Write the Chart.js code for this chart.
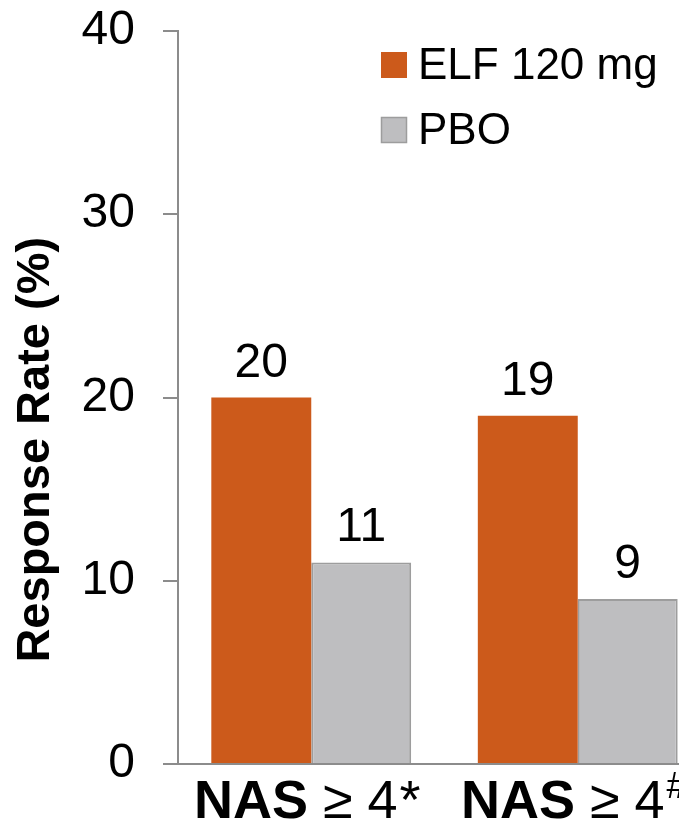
<!DOCTYPE html>
<html>
<head>
<meta charset="utf-8">
<script src="https://cdn.jsdelivr.net/npm/chart.js@4/dist/chart.umd.min.js"></script>
<style>
  html, body { margin: 0; padding: 0; background: #fff; overflow: hidden; }
  #wrap { width: 720px; height: 825px; }
</style>
</head>
<body>
<div id="wrap"><canvas id="responseChart"></canvas></div>
<script>
// chart data
const categories = ['NAS ≥ 4*', 'NAS ≥ 4#'];
const catBold = ['NAS', 'NAS'];
const catRest = [' ≥ 4', ' ≥ 4'];
const catMark = ['*', '#'];
const elfValues = [20, 19];
const pboValues = [11, 9];
const yTicks = [0, 10, 20, 30, 40];

const FONT = '"Liberation Sans", Arial, Helvetica, sans-serif';
const ORANGE = '#cc5a1b';
const GREY = '#bebec0';
const GREY_BORDER = '#9d9d9d';
const AXIS = '#8c8c8c';

// numbers above bars
const valueLabels = {
    id: 'valueLabels',
    afterDatasetsDraw(chart) {
        const ctx = chart.ctx;
        ctx.save();
        ctx.font = '48px ' + FONT;
        ctx.fillStyle = '#000';
        ctx.textAlign = 'center';
        ctx.textBaseline = 'alphabetic';
        chart.data.datasets.forEach((ds, i) => {
            chart.getDatasetMeta(i).data.forEach((bar, j) => {
                ctx.fillText(String(ds.data[j]), bar.x, bar.y - 21);
            });
        });
        ctx.restore();
    }
};

// category labels with bold "NAS" and footnote marks
const categoryLabels = {
    id: 'categoryLabels',
    afterDraw(chart) {
        const ctx = chart.ctx;
        const xScale = chart.scales.x;
        const baseY = 818;
        ctx.save();
        ctx.fillStyle = '#000';
        ctx.textBaseline = 'alphabetic';
        ctx.textAlign = 'left';
        categories.forEach((c, i) => {
            const bold = 'bold 54px ' + FONT;
            const reg = '54px ' + FONT;
            const sup = catMark[i] === '*' ? reg : '36px ' + FONT;
            ctx.font = bold;
            const w1 = ctx.measureText(catBold[i]).width;
            ctx.font = reg;
            const w2 = ctx.measureText(catRest[i]).width;
            ctx.font = sup;
            const w3 = ctx.measureText(catMark[i]).width;
            let x = xScale.getPixelForValue(i) - (w1 + w2 + w3) / 2 - 5;
            ctx.font = bold;
            ctx.fillText(catBold[i], x, baseY);
            x += w1;
            ctx.font = reg;
            ctx.fillText(catRest[i], x, baseY);
            x += w2;
            ctx.font = sup;
            ctx.fillText(catMark[i], x + 2, catMark[i] === '*' ? baseY : baseY - 20);
        });
        ctx.restore();
    }
};

// legend drawn inside the plot, top right
const boxLegend = {
    id: 'boxLegend',
    afterDraw(chart) {
        const ctx = chart.ctx;
        ctx.save();
        ctx.font = '44px ' + FONT;
        ctx.textBaseline = 'middle';
        ctx.textAlign = 'left';
        chart.data.datasets.forEach((ds, i) => {
            const y = 52 + i * 65;
            ctx.fillStyle = ds.backgroundColor;
            ctx.fillRect(381, y, 26, 26);
            if (ds.borderWidth) {
                ctx.strokeStyle = ds.borderColor;
                ctx.lineWidth = 1.5;
                ctx.strokeRect(381.5, y + 0.5, 25, 25);
            }
            ctx.fillStyle = '#000';
            ctx.fillText(ds.label, 418, y + 15);
        });
        ctx.restore();
    }
};

new Chart(document.getElementById('responseChart'), {
    type: 'bar',
    data: {
        labels: categories,
        datasets: [
            {
                label: 'ELF 120 mg',
                data: elfValues,
                backgroundColor: ORANGE,
                borderWidth: 0
            },
            {
                label: 'PBO',
                data: pboValues,
                backgroundColor: GREY,
                borderColor: GREY_BORDER,
                borderWidth: 2
            }
        ]
    },
    options: {
        responsive: true,
        maintainAspectRatio: false,
        animation: false,
        layout: { padding: { top: 31, right: 9, bottom: 0, left: 0 } },
        datasets: {
            bar: { categoryPercentage: 0.75, barPercentage: 1.0 }
        },
        plugins: {
            legend: { display: false },
            tooltip: { enabled: false }
        },
        scales: {
            x: {
                grid: { display: false },
                border: { display: true, color: AXIS, width: 2 },
                ticks: { display: false },
                afterFit(scale) { scale.height = 61; }
            },
            y: {
                min: 0,
                max: 40,
                afterBuildTicks(scale) {
                    scale.ticks = yTicks.map(v => ({ value: v }));
                },
                grid: {
                    drawOnChartArea: false,
                    drawTicks: true,
                    tickLength: 15,
                    color: AXIS,
                    lineWidth: 2
                },
                border: { display: true, color: AXIS, width: 2 },
                ticks: {
                    color: '#000',
                    padding: 28,
                    font: { family: FONT, size: 48 }
                },
                title: {
                    display: true,
                    text: 'Response Rate (%)' + '\u0020'.repeat(8),
                    color: '#000',
                    padding: { top: 8, bottom: 0 },
                    font: { family: FONT, size: 47, weight: 'bold' }
                },
                afterFit(scale) {
                    scale.width = 178;
                    scale.paddingTop = 0;
                    scale.paddingBottom = 0;
                }
            }
        }
    },
    plugins: [valueLabels, categoryLabels, boxLegend]
});
</script>
</body>
</html>
